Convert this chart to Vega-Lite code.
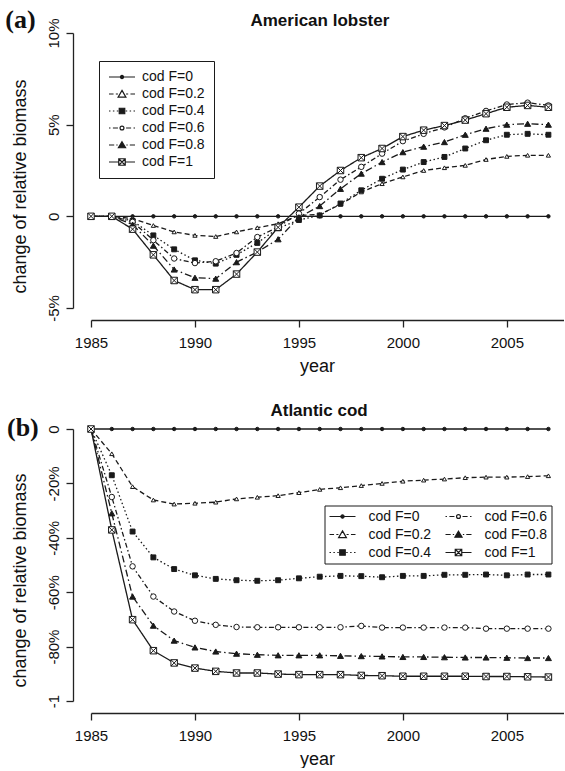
{
"$schema": "https://vega.github.io/schema/vega-lite/v6.json",
"padding": {"left": 5, "top": 6, "right": 0, "bottom": 0},
"background": "white",
"bounds": "flush",
"spacing": 121,
"config": {
  "view": {"stroke": null},
  "font": "Liberation Sans",
  "axis": {"grid": false, "labelFont": "Liberation Sans", "titleFont": "Liberation Sans", "labelColor": "#111", "titleColor": "#111", "domainColor": "#222", "tickColor": "#222", "domainWidth": 1.3, "tickWidth": 1.3, "labelFontSize": 15, "titleFontSize": 18, "titleFontWeight": "normal", "tickSize": 7, "labelOverlap": false, "labelFlush": false},
  "legend": {"labelFont": "Liberation Sans", "labelFontSize": 14, "labelColor": "#111", "symbolOpacity": 1}
},
"resolve": {
  "scale": {"shape": "independent", "fill": "independent", "size": "independent", "strokeDash": "independent"},
  "legend": {"shape": "independent", "fill": "independent", "size": "independent", "strokeDash": "independent"}
},
"datasets": {
"lobster": [
{"year":1985,"F":"cod F=0","v":0},{"year":1986,"F":"cod F=0","v":0},{"year":1987,"F":"cod F=0","v":0},{"year":1988,"F":"cod F=0","v":0},{"year":1989,"F":"cod F=0","v":0},{"year":1990,"F":"cod F=0","v":0},{"year":1991,"F":"cod F=0","v":0},{"year":1992,"F":"cod F=0","v":0},{"year":1993,"F":"cod F=0","v":0},{"year":1994,"F":"cod F=0","v":0},{"year":1995,"F":"cod F=0","v":0},{"year":1996,"F":"cod F=0","v":0},{"year":1997,"F":"cod F=0","v":0},{"year":1998,"F":"cod F=0","v":0},{"year":1999,"F":"cod F=0","v":0},{"year":2000,"F":"cod F=0","v":0},{"year":2001,"F":"cod F=0","v":0},{"year":2002,"F":"cod F=0","v":0},{"year":2003,"F":"cod F=0","v":0},{"year":2004,"F":"cod F=0","v":0},{"year":2005,"F":"cod F=0","v":0},{"year":2006,"F":"cod F=0","v":0},{"year":2007,"F":"cod F=0","v":0},
{"year":1985,"F":"cod F=0.2","v":0},{"year":1986,"F":"cod F=0.2","v":0},{"year":1987,"F":"cod F=0.2","v":-0.12},{"year":1988,"F":"cod F=0.2","v":-0.5},{"year":1989,"F":"cod F=0.2","v":-0.85},{"year":1990,"F":"cod F=0.2","v":-1.04},{"year":1991,"F":"cod F=0.2","v":-1.1},{"year":1992,"F":"cod F=0.2","v":-0.85},{"year":1993,"F":"cod F=0.2","v":-0.62},{"year":1994,"F":"cod F=0.2","v":-0.4},{"year":1995,"F":"cod F=0.2","v":0.05},{"year":1996,"F":"cod F=0.2","v":0.1},{"year":1997,"F":"cod F=0.2","v":0.65},{"year":1998,"F":"cod F=0.2","v":1.33},{"year":1999,"F":"cod F=0.2","v":1.78},{"year":2000,"F":"cod F=0.2","v":2.15},{"year":2001,"F":"cod F=0.2","v":2.5},{"year":2002,"F":"cod F=0.2","v":2.65},{"year":2003,"F":"cod F=0.2","v":2.78},{"year":2004,"F":"cod F=0.2","v":3.1},{"year":2005,"F":"cod F=0.2","v":3.27},{"year":2006,"F":"cod F=0.2","v":3.33},{"year":2007,"F":"cod F=0.2","v":3.33},
{"year":1985,"F":"cod F=0.4","v":0},{"year":1986,"F":"cod F=0.4","v":0},{"year":1987,"F":"cod F=0.4","v":-0.25},{"year":1988,"F":"cod F=0.4","v":-1.04},{"year":1989,"F":"cod F=0.4","v":-1.8},{"year":1990,"F":"cod F=0.4","v":-2.4},{"year":1991,"F":"cod F=0.4","v":-2.58},{"year":1992,"F":"cod F=0.4","v":-2.1},{"year":1993,"F":"cod F=0.4","v":-1.45},{"year":1994,"F":"cod F=0.4","v":-0.65},{"year":1995,"F":"cod F=0.4","v":-0.2},{"year":1996,"F":"cod F=0.4","v":0.05},{"year":1997,"F":"cod F=0.4","v":0.7},{"year":1998,"F":"cod F=0.4","v":1.42},{"year":1999,"F":"cod F=0.4","v":2.05},{"year":2000,"F":"cod F=0.4","v":2.55},{"year":2001,"F":"cod F=0.4","v":2.96},{"year":2002,"F":"cod F=0.4","v":3.24},{"year":2003,"F":"cod F=0.4","v":3.7},{"year":2004,"F":"cod F=0.4","v":4.15},{"year":2005,"F":"cod F=0.4","v":4.45},{"year":2006,"F":"cod F=0.4","v":4.5},{"year":2007,"F":"cod F=0.4","v":4.45},
{"year":1985,"F":"cod F=0.6","v":0},{"year":1986,"F":"cod F=0.6","v":0},{"year":1987,"F":"cod F=0.6","v":-0.3},{"year":1988,"F":"cod F=0.6","v":-1.3},{"year":1989,"F":"cod F=0.6","v":-2.3},{"year":1990,"F":"cod F=0.6","v":-2.55},{"year":1991,"F":"cod F=0.6","v":-2.45},{"year":1992,"F":"cod F=0.6","v":-2.0},{"year":1993,"F":"cod F=0.6","v":-1.13},{"year":1994,"F":"cod F=0.6","v":-0.58},{"year":1995,"F":"cod F=0.6","v":0.15},{"year":1996,"F":"cod F=0.6","v":1.05},{"year":1997,"F":"cod F=0.6","v":2.0},{"year":1998,"F":"cod F=0.6","v":2.7},{"year":1999,"F":"cod F=0.6","v":3.42},{"year":2000,"F":"cod F=0.6","v":4.1},{"year":2001,"F":"cod F=0.6","v":4.5},{"year":2002,"F":"cod F=0.6","v":4.85},{"year":2003,"F":"cod F=0.6","v":5.35},{"year":2004,"F":"cod F=0.6","v":5.75},{"year":2005,"F":"cod F=0.6","v":6.1},{"year":2006,"F":"cod F=0.6","v":6.2},{"year":2007,"F":"cod F=0.6","v":6.05},
{"year":1985,"F":"cod F=0.8","v":0},{"year":1986,"F":"cod F=0.8","v":0},{"year":1987,"F":"cod F=0.8","v":-0.45},{"year":1988,"F":"cod F=0.8","v":-1.6},{"year":1989,"F":"cod F=0.8","v":-2.9},{"year":1990,"F":"cod F=0.8","v":-3.35},{"year":1991,"F":"cod F=0.8","v":-3.4},{"year":1992,"F":"cod F=0.8","v":-2.5},{"year":1993,"F":"cod F=0.8","v":-1.95},{"year":1994,"F":"cod F=0.8","v":-1.25},{"year":1995,"F":"cod F=0.8","v":-0.05},{"year":1996,"F":"cod F=0.8","v":0.56},{"year":1997,"F":"cod F=0.8","v":1.5},{"year":1998,"F":"cod F=0.8","v":2.33},{"year":1999,"F":"cod F=0.8","v":2.96},{"year":2000,"F":"cod F=0.8","v":3.5},{"year":2001,"F":"cod F=0.8","v":3.8},{"year":2002,"F":"cod F=0.8","v":4.05},{"year":2003,"F":"cod F=0.8","v":4.45},{"year":2004,"F":"cod F=0.8","v":4.78},{"year":2005,"F":"cod F=0.8","v":5.0},{"year":2006,"F":"cod F=0.8","v":5.05},{"year":2007,"F":"cod F=0.8","v":5.0},
{"year":1985,"F":"cod F=1","v":0},{"year":1986,"F":"cod F=1","v":0},{"year":1987,"F":"cod F=1","v":-0.7},{"year":1988,"F":"cod F=1","v":-2.1},{"year":1989,"F":"cod F=1","v":-3.5},{"year":1990,"F":"cod F=1","v":-4.0},{"year":1991,"F":"cod F=1","v":-4.0},{"year":1992,"F":"cod F=1","v":-3.15},{"year":1993,"F":"cod F=1","v":-1.95},{"year":1994,"F":"cod F=1","v":-0.6},{"year":1995,"F":"cod F=1","v":0.5},{"year":1996,"F":"cod F=1","v":1.65},{"year":1997,"F":"cod F=1","v":2.5},{"year":1998,"F":"cod F=1","v":3.2},{"year":1999,"F":"cod F=1","v":3.7},{"year":2000,"F":"cod F=1","v":4.35},{"year":2001,"F":"cod F=1","v":4.7},{"year":2002,"F":"cod F=1","v":4.95},{"year":2003,"F":"cod F=1","v":5.25},{"year":2004,"F":"cod F=1","v":5.6},{"year":2005,"F":"cod F=1","v":5.95},{"year":2006,"F":"cod F=1","v":6.05},{"year":2007,"F":"cod F=1","v":5.95}
],
"cod": [
{"year":1985,"F":"cod F=0","v":0},{"year":1986,"F":"cod F=0","v":0},{"year":1987,"F":"cod F=0","v":0},{"year":1988,"F":"cod F=0","v":0},{"year":1989,"F":"cod F=0","v":0},{"year":1990,"F":"cod F=0","v":0},{"year":1991,"F":"cod F=0","v":0},{"year":1992,"F":"cod F=0","v":0},{"year":1993,"F":"cod F=0","v":0},{"year":1994,"F":"cod F=0","v":0},{"year":1995,"F":"cod F=0","v":0},{"year":1996,"F":"cod F=0","v":0},{"year":1997,"F":"cod F=0","v":0},{"year":1998,"F":"cod F=0","v":0},{"year":1999,"F":"cod F=0","v":0},{"year":2000,"F":"cod F=0","v":0},{"year":2001,"F":"cod F=0","v":0},{"year":2002,"F":"cod F=0","v":0},{"year":2003,"F":"cod F=0","v":0},{"year":2004,"F":"cod F=0","v":0},{"year":2005,"F":"cod F=0","v":0},{"year":2006,"F":"cod F=0","v":0},{"year":2007,"F":"cod F=0","v":0},
{"year":1985,"F":"cod F=0.2","v":0},{"year":1986,"F":"cod F=0.2","v":-9.1},{"year":1987,"F":"cod F=0.2","v":-21.2},{"year":1988,"F":"cod F=0.2","v":-26.1},{"year":1989,"F":"cod F=0.2","v":-27.6},{"year":1990,"F":"cod F=0.2","v":-27.3},{"year":1991,"F":"cod F=0.2","v":-26.9},{"year":1992,"F":"cod F=0.2","v":-25.7},{"year":1993,"F":"cod F=0.2","v":-25.1},{"year":1994,"F":"cod F=0.2","v":-24.5},{"year":1995,"F":"cod F=0.2","v":-23.4},{"year":1996,"F":"cod F=0.2","v":-22.2},{"year":1997,"F":"cod F=0.2","v":-21.6},{"year":1998,"F":"cod F=0.2","v":-20.8},{"year":1999,"F":"cod F=0.2","v":-20.0},{"year":2000,"F":"cod F=0.2","v":-19.2},{"year":2001,"F":"cod F=0.2","v":-18.8},{"year":2002,"F":"cod F=0.2","v":-18.4},{"year":2003,"F":"cod F=0.2","v":-17.9},{"year":2004,"F":"cod F=0.2","v":-17.7},{"year":2005,"F":"cod F=0.2","v":-17.7},{"year":2006,"F":"cod F=0.2","v":-17.5},{"year":2007,"F":"cod F=0.2","v":-17.2},
{"year":1985,"F":"cod F=0.4","v":0},{"year":1986,"F":"cod F=0.4","v":-17},{"year":1987,"F":"cod F=0.4","v":-37.7},{"year":1988,"F":"cod F=0.4","v":-47.2},{"year":1989,"F":"cod F=0.4","v":-51.5},{"year":1990,"F":"cod F=0.4","v":-53.8},{"year":1991,"F":"cod F=0.4","v":-55.1},{"year":1992,"F":"cod F=0.4","v":-55.6},{"year":1993,"F":"cod F=0.4","v":-55.8},{"year":1994,"F":"cod F=0.4","v":-55.6},{"year":1995,"F":"cod F=0.4","v":-54.9},{"year":1996,"F":"cod F=0.4","v":-54.3},{"year":1997,"F":"cod F=0.4","v":-54.0},{"year":1998,"F":"cod F=0.4","v":-54.1},{"year":1999,"F":"cod F=0.4","v":-54.5},{"year":2000,"F":"cod F=0.4","v":-54.0},{"year":2001,"F":"cod F=0.4","v":-54.0},{"year":2002,"F":"cod F=0.4","v":-53.6},{"year":2003,"F":"cod F=0.4","v":-53.6},{"year":2004,"F":"cod F=0.4","v":-53.5},{"year":2005,"F":"cod F=0.4","v":-53.8},{"year":2006,"F":"cod F=0.4","v":-53.5},{"year":2007,"F":"cod F=0.4","v":-53.5},
{"year":1985,"F":"cod F=0.6","v":0},{"year":1986,"F":"cod F=0.6","v":-25},{"year":1987,"F":"cod F=0.6","v":-50.5},{"year":1988,"F":"cod F=0.6","v":-61.6},{"year":1989,"F":"cod F=0.6","v":-67.1},{"year":1990,"F":"cod F=0.6","v":-70.5},{"year":1991,"F":"cod F=0.6","v":-72.0},{"year":1992,"F":"cod F=0.6","v":-72.8},{"year":1993,"F":"cod F=0.6","v":-72.9},{"year":1994,"F":"cod F=0.6","v":-72.9},{"year":1995,"F":"cod F=0.6","v":-72.9},{"year":1996,"F":"cod F=0.6","v":-72.9},{"year":1997,"F":"cod F=0.6","v":-72.9},{"year":1998,"F":"cod F=0.6","v":-72.4},{"year":1999,"F":"cod F=0.6","v":-73.0},{"year":2000,"F":"cod F=0.6","v":-73.0},{"year":2001,"F":"cod F=0.6","v":-73.0},{"year":2002,"F":"cod F=0.6","v":-73.0},{"year":2003,"F":"cod F=0.6","v":-73.0},{"year":2004,"F":"cod F=0.6","v":-73.4},{"year":2005,"F":"cod F=0.6","v":-73.4},{"year":2006,"F":"cod F=0.6","v":-73.4},{"year":2007,"F":"cod F=0.6","v":-73.4},
{"year":1985,"F":"cod F=0.8","v":0},{"year":1986,"F":"cod F=0.8","v":-31},{"year":1987,"F":"cod F=0.8","v":-61.6},{"year":1988,"F":"cod F=0.8","v":-72.3},{"year":1989,"F":"cod F=0.8","v":-77.8},{"year":1990,"F":"cod F=0.8","v":-80.3},{"year":1991,"F":"cod F=0.8","v":-81.8},{"year":1992,"F":"cod F=0.8","v":-82.6},{"year":1993,"F":"cod F=0.8","v":-83.0},{"year":1994,"F":"cod F=0.8","v":-83.2},{"year":1995,"F":"cod F=0.8","v":-83.2},{"year":1996,"F":"cod F=0.8","v":-83.2},{"year":1997,"F":"cod F=0.8","v":-83.4},{"year":1998,"F":"cod F=0.8","v":-83.5},{"year":1999,"F":"cod F=0.8","v":-83.6},{"year":2000,"F":"cod F=0.8","v":-83.8},{"year":2001,"F":"cod F=0.8","v":-83.8},{"year":2002,"F":"cod F=0.8","v":-83.9},{"year":2003,"F":"cod F=0.8","v":-84.0},{"year":2004,"F":"cod F=0.8","v":-84.0},{"year":2005,"F":"cod F=0.8","v":-84.1},{"year":2006,"F":"cod F=0.8","v":-84.2},{"year":2007,"F":"cod F=0.8","v":-84.2},
{"year":1985,"F":"cod F=1","v":0},{"year":1986,"F":"cod F=1","v":-37.1},{"year":1987,"F":"cod F=1","v":-70.1},{"year":1988,"F":"cod F=1","v":-81.5},{"year":1989,"F":"cod F=1","v":-86.0},{"year":1990,"F":"cod F=1","v":-87.9},{"year":1991,"F":"cod F=1","v":-89.1},{"year":1992,"F":"cod F=1","v":-89.7},{"year":1993,"F":"cod F=1","v":-89.7},{"year":1994,"F":"cod F=1","v":-90.1},{"year":1995,"F":"cod F=1","v":-90.3},{"year":1996,"F":"cod F=1","v":-90.3},{"year":1997,"F":"cod F=1","v":-90.3},{"year":1998,"F":"cod F=1","v":-90.6},{"year":1999,"F":"cod F=1","v":-90.7},{"year":2000,"F":"cod F=1","v":-90.9},{"year":2001,"F":"cod F=1","v":-90.9},{"year":2002,"F":"cod F=1","v":-90.9},{"year":2003,"F":"cod F=1","v":-90.9},{"year":2004,"F":"cod F=1","v":-91.0},{"year":2005,"F":"cod F=1","v":-91.0},{"year":2006,"F":"cod F=1","v":-91.1},{"year":2007,"F":"cod F=1","v":-91.2}
]
},
"vconcat": [
{
  "width": 473, "height": 275,
  "resolve": {"scale": {"shape": "independent", "fill": "independent"}, "legend": {"shape": "independent", "fill": "independent"}},
  "layer": [
    {
      "data": {"name": "lobster"},
      "mark": {"type": "line", "color": "#1a1a1a", "strokeWidth": 1.3},
      "encoding": {
        "x": {"field": "year", "type": "quantitative", "scale": {"domain": [1985, 2007.75], "nice": false, "zero": false},
              "axis": {"values": [1985, 1990, 1995, 2000, 2005], "format": "d", "offset": 12, "labelPadding": 8, "labelAngle": 0, "title": "year", "titleX": 226, "titleY": 51, "titleAlign": "center", "titleBaseline": "alphabetic"}},
        "y": {"field": "v", "type": "quantitative", "scale": {"domain": [-5, 10], "nice": false, "zero": false},
              "axis": {"values": [-5, 0, 5, 10], "labelExpr": "datum.value == 0 ? '0' : datum.value + '%'", "offset": 18, "labelAngle": 270, "labelAlign": "center", "labelBaseline": "alphabetic", "labelPadding": 8, "title": "change of relative biomass", "titleAngle": 270, "titleAlign": "center", "titleBaseline": "alphabetic", "titleX": -48, "titleY": 153}},
        "strokeDash": {"field": "F", "type": "nominal",
              "scale": {"range": [[1, 0], [5, 3], [1.5, 2.5], [1.5, 2.5, 5, 2.5], [7, 3, 1.5, 3], [1, 0]]},
              "legend": null}
      }
    },
    {
      "data": {"name": "lobster"},
      "mark": {"type": "point", "opacity": 1, "stroke": "#1a1a1a", "strokeWidth": 1},
      "encoding": {
        "x": {"field": "year", "type": "quantitative"},
        "y": {"field": "v", "type": "quantitative"},
        "shape": {"field": "F", "type": "nominal", "scale": {"domain": ["cod F=0", "cod F=0.2", "cod F=0.4", "cod F=0.6", "cod F=0.8", "cod F=1"], "range": ["circle", "triangle-up", "square", "circle", "triangle-up", "M-1,-1H1V1H-1Z M-1,-1L1,1 M1,-1L-1,1"]}, "legend": null},
        "fill": {"field": "F", "type": "nominal", "scale": {"domain": ["cod F=0", "cod F=0.2", "cod F=0.4", "cod F=0.6", "cod F=0.8", "cod F=1"], "range": ["#1a1a1a", "#ffffff", "#1a1a1a", "#ffffff", "#1a1a1a", "#ffffff"]}, "legend": null},
        "size": {"field": "F", "type": "nominal", "scale": {"domain": ["cod F=0", "cod F=0.2", "cod F=0.4", "cod F=0.6", "cod F=0.8", "cod F=1"], "range": [12, 42, 34, 20, 38, 42]}, "legend": null}
      }
    },
    {
      "data": {"name": "lobster"},
      "mark": {"type": "point", "opacity": 0, "stroke": "#1a1a1a", "strokeWidth": 1.2},
      "encoding": {
        "x": {"field": "year", "type": "quantitative"},
        "y": {"field": "v", "type": "quantitative"},
        "shape": {"field": "F", "type": "nominal", "scale": {"domain": ["cod F=0", "cod F=0.2", "cod F=0.4", "cod F=0.6", "cod F=0.8", "cod F=1"], "range": [
            "M-4,0H4M-0.5,0A0.5,0.5 0 1,1 0.5,0A0.5,0.5 0 1,1 -0.5,0Z",
            "M-4,0H-2.6M-1.9,0H-1.25M1.25,0H1.9M2.6,0H4M0,-1.1L1.2,0.95L-1.2,0.95Z",
            "M-4,0H-3.55M-2.8,0H-2.35M-1.6,0H-1.15M1.15,0H1.6M2.35,0H2.8M3.55,0H4M-0.85,-0.85H0.85V0.85H-0.85Z",
            "M-4,0H-3.55M-2.8,0H-1.25M1.25,0H2.8M3.55,0H4M-0.6,0A0.6,0.6 0 1,1 0.6,0A0.6,0.6 0 1,1 -0.6,0Z",
            "M-4,0H-2.4M-1.75,0H-1.35M1.35,0H1.75M2.4,0H4M0,-1L1.1,0.85L-1.1,0.85Z",
            "M-4,0H-1M1,0H4M-1,-1H1V1H-1ZM-1,-1L1,1M1,-1L-1,1"]},
              "legend": {"orient": "none", "legendX": 8, "legendY": 28, "direction": "vertical", "columns": 1, "title": null, "padding": 9, "rowPadding": 3, "symbolSize": 42.25, "symbolStrokeWidth": 1.2, "symbolOffset": 7, "labelOffset": 13, "strokeColor": "#1a1a1a"}},
        "fill": {"field": "F", "type": "nominal", "scale": {"domain": ["cod F=0", "cod F=0.2", "cod F=0.4", "cod F=0.6", "cod F=0.8", "cod F=1"], "range": ["#1a1a1a", "#ffffff", "#1a1a1a", "#ffffff", "#1a1a1a", "#ffffff"]},
              "legend": {"orient": "none", "legendX": 8, "legendY": 28, "direction": "vertical", "columns": 1, "title": null, "padding": 9, "rowPadding": 3, "symbolSize": 42.25, "symbolStrokeWidth": 1.2, "symbolOffset": 7, "labelOffset": 13, "strokeColor": "#1a1a1a"}}
      }
    },
    {
      "data": {"values": [{"label": "(a)"}]},
      "mark": {"type": "text", "font": "Liberation Serif", "fontWeight": "bold", "fontSize": 26, "align": "left", "baseline": "middle", "color": "#111"},
      "encoding": {
        "x": {"datum": 1980.88, "type": "quantitative"},
        "y": {"datum": 10.71, "type": "quantitative"},
        "text": {"field": "label"}
      }
    },
    {
      "data": {"values": [{"label": "American lobster"}]},
      "mark": {"type": "text", "font": "Liberation Sans", "fontWeight": "bold", "fontSize": 17, "align": "center", "baseline": "alphabetic", "color": "#111"},
      "encoding": {
        "x": {"datum": 1996.01, "type": "quantitative"},
        "y": {"datum": 10.38, "type": "quantitative"},
        "text": {"field": "label"}
      }
    }
  ]
},
{
  "width": 473, "height": 272,
  "resolve": {"scale": {"shape": "independent", "fill": "independent"}, "legend": {"shape": "independent", "fill": "independent"}},
  "layer": [
    {
      "data": {"name": "cod"},
      "mark": {"type": "line", "color": "#1a1a1a", "strokeWidth": 1.3},
      "encoding": {
        "x": {"field": "year", "type": "quantitative", "scale": {"domain": [1985, 2007.75], "nice": false, "zero": false},
              "axis": {"values": [1985, 1990, 1995, 2000, 2005], "format": "d", "offset": 12, "labelPadding": 8, "labelAngle": 0, "title": "year", "titleX": 226, "titleY": 51, "titleAlign": "center", "titleBaseline": "alphabetic"}},
        "y": {"field": "v", "type": "quantitative", "scale": {"domain": [-100, 0], "nice": false, "zero": false},
              "axis": {"values": [-100, -80, -60, -40, -20, 0], "labelExpr": "datum.value == 0 ? '0' : datum.value == -100 ? '-1' : datum.value + '%'", "offset": 18, "labelAngle": 270, "labelAlign": "center", "labelBaseline": "alphabetic", "labelPadding": 8, "title": "change of relative biomass", "titleAngle": 270, "titleAlign": "center", "titleBaseline": "alphabetic", "titleX": -48, "titleY": 151}},
        "strokeDash": {"field": "F", "type": "nominal",
              "scale": {"range": [[1, 0], [5, 3], [1.5, 2.5], [1.5, 2.5, 5, 2.5], [7, 3, 1.5, 3], [1, 0]]},
              "legend": null}
      }
    },
    {
      "data": {"name": "cod"},
      "mark": {"type": "point", "opacity": 1, "stroke": "#1a1a1a", "strokeWidth": 1},
      "encoding": {
        "x": {"field": "year", "type": "quantitative"},
        "y": {"field": "v", "type": "quantitative"},
        "shape": {"field": "F", "type": "nominal", "scale": {"domain": ["cod F=0", "cod F=0.2", "cod F=0.4", "cod F=0.6", "cod F=0.8", "cod F=1"], "range": ["circle", "triangle-up", "square", "circle", "triangle-up", "M-1,-1H1V1H-1Z M-1,-1L1,1 M1,-1L-1,1"]}, "legend": null},
        "fill": {"field": "F", "type": "nominal", "scale": {"domain": ["cod F=0", "cod F=0.2", "cod F=0.4", "cod F=0.6", "cod F=0.8", "cod F=1"], "range": ["#1a1a1a", "#ffffff", "#1a1a1a", "#ffffff", "#1a1a1a", "#ffffff"]}, "legend": null},
        "size": {"field": "F", "type": "nominal", "scale": {"domain": ["cod F=0", "cod F=0.2", "cod F=0.4", "cod F=0.6", "cod F=0.8", "cod F=1"], "range": [12, 42, 34, 20, 38, 42]}, "legend": null}
      }
    },
    {
      "data": {"name": "cod"},
      "mark": {"type": "point", "opacity": 0, "stroke": "#1a1a1a", "strokeWidth": 1.2},
      "encoding": {
        "x": {"field": "year", "type": "quantitative"},
        "y": {"field": "v", "type": "quantitative"},
        "shape": {"field": "F", "type": "nominal", "scale": {"domain": ["cod F=0", "cod F=0.2", "cod F=0.4", "cod F=0.6", "cod F=0.8", "cod F=1"], "range": [
            "M-4,0H4M-0.5,0A0.5,0.5 0 1,1 0.5,0A0.5,0.5 0 1,1 -0.5,0Z",
            "M-4,0H-2.6M-1.9,0H-1.25M1.25,0H1.9M2.6,0H4M0,-1.1L1.2,0.95L-1.2,0.95Z",
            "M-4,0H-3.55M-2.8,0H-2.35M-1.6,0H-1.15M1.15,0H1.6M2.35,0H2.8M3.55,0H4M-0.85,-0.85H0.85V0.85H-0.85Z",
            "M-4,0H-3.55M-2.8,0H-1.25M1.25,0H2.8M3.55,0H4M-0.6,0A0.6,0.6 0 1,1 0.6,0A0.6,0.6 0 1,1 -0.6,0Z",
            "M-4,0H-2.4M-1.75,0H-1.35M1.35,0H1.75M2.4,0H4M0,-1L1.1,0.85L-1.1,0.85Z",
            "M-4,0H-1M1,0H4M-1,-1H1V1H-1ZM-1,-1L1,1M1,-1L-1,1"]},
              "legend": {"orient": "none", "legendX": 233.5, "legendY": 76.5, "direction": "vertical", "columns": 2, "title": null, "padding": 4, "rowPadding": 4, "columnPadding": 11, "symbolSize": 42.25, "symbolStrokeWidth": 1.2, "symbolOffset": 7, "labelOffset": 19, "strokeColor": "#1a1a1a"}},
        "fill": {"field": "F", "type": "nominal", "scale": {"domain": ["cod F=0", "cod F=0.2", "cod F=0.4", "cod F=0.6", "cod F=0.8", "cod F=1"], "range": ["#1a1a1a", "#ffffff", "#1a1a1a", "#ffffff", "#1a1a1a", "#ffffff"]},
              "legend": {"orient": "none", "legendX": 233.5, "legendY": 76.5, "direction": "vertical", "columns": 2, "title": null, "padding": 4, "rowPadding": 4, "columnPadding": 11, "symbolSize": 42.25, "symbolStrokeWidth": 1.2, "symbolOffset": 7, "labelOffset": 19, "strokeColor": "#1a1a1a"}}
      }
    },
    {
      "data": {"values": [{"label": "(b)"}]},
      "mark": {"type": "text", "font": "Liberation Serif", "fontWeight": "bold", "fontSize": 26, "align": "left", "baseline": "middle", "color": "#111"},
      "encoding": {
        "x": {"datum": 1980.96, "type": "quantitative"},
        "y": {"datum": 0.26, "type": "quantitative"},
        "text": {"field": "label"}
      }
    },
    {
      "data": {"values": [{"label": "Atlantic cod"}]},
      "mark": {"type": "text", "font": "Liberation Sans", "fontWeight": "bold", "fontSize": 17, "align": "center", "baseline": "alphabetic", "color": "#111"},
      "encoding": {
        "x": {"datum": 1995.97, "type": "quantitative"},
        "y": {"datum": 4.66, "type": "quantitative"},
        "text": {"field": "label"}
      }
    }
  ]
}
]
}
